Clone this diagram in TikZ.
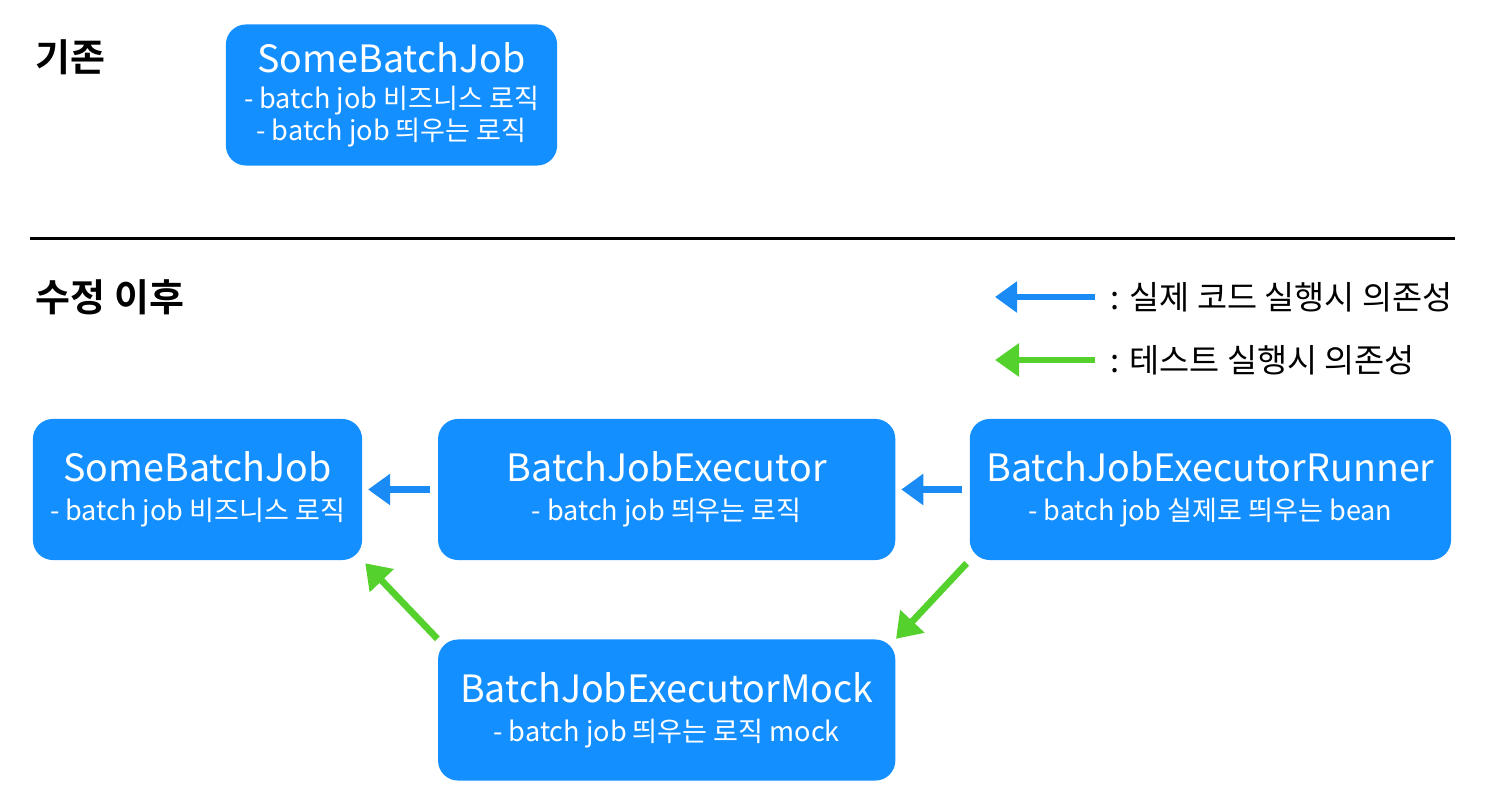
\documentclass[tikz,border=0pt]{standalone}
\usepackage{fontspec}
\setmainfont{Noto Sans CJK KR}[BoldFont=Noto Sans CJK KR Bold]
\usetikzlibrary{positioning,arrows.meta}
\definecolor{boxblue}{HTML}{148FFF}
\definecolor{depblue}{HTML}{1A8BF5}
\definecolor{depgreen}{HTML}{55D12E}
\newcommand{\boxtitle}[1]{{\fontsize{10.7}{13}\selectfont #1}}
\begin{document}
\begin{tikzpicture}[x=0.01cm,y=-0.01cm,
    job/.style={fill=boxblue,rounded corners=0.2cm,text=white,align=center,
      minimum height=1.41cm,inner sep=0pt,font=\fontsize{7.7}{9.1}\selectfont},
    head/.style={font=\fontsize{10.8}{12}\selectfont\bfseries,anchor=west,inner sep=0pt},
    legend/.style={font=\fontsize{9.3}{11}\selectfont,anchor=west,inner sep=0pt},
    realdep/.style={draw=depblue,line width=1.8pt,-{Triangle[length=0.22cm,width=0.3cm]}},
    testdep/.style={draw=depgreen,line width=1.9pt,-{Triangle[length=0.24cm,width=0.32cm]}},
    node distance={0.745cm}]
    \useasboundingbox (0,0) rectangle (1488,810);
    % before
    \node[head](before) at (35,57) {기존};
    \node[job,minimum width=3.31cm](oldjob) at (391.5,95)
        {\boxtitle{SomeBatchJob}\\[1pt]- batch job 비즈니스 로직\\- batch job 띄우는 로직};
    \coordinate (sepl) at (30,239);
    \coordinate (sepr) at (1455,239);
    \draw[line width=0.85pt] (sepl) -- (sepr);
    % after
    \node[head](after) at (35,297) {수정 이후};
    \coordinate (real1) at (1095,297);
    \coordinate (real0) at (995,297);
    \draw[realdep] (real1) -- (real0);
    \node[legend](reallbl) at (1110,297) {: 실제 코드 실행시 의존성};
    \coordinate (test1) at (1095,360);
    \coordinate (test0) at (995,360);
    \draw[testdep] (test1) -- (test0);
    \node[legend](testlbl) at (1110,360) {: 테스트 실행시 의존성};
    \node[job,minimum width=3.29cm](job) at (197.5,489.5)
        {\boxtitle{SomeBatchJob}\\[2pt]- batch job 비즈니스 로직};
    \node[job,minimum width=4.57cm](executor)[right=of job]
        {\boxtitle{BatchJobExecutor}\\[2pt]- batch job 띄우는 로직};
    \node[job,minimum width=4.81cm](runner)[right=0.73cm of executor]
        {\boxtitle{BatchJobExecutorRunner}\\[2pt]- batch job 실제로 띄우는 bean};
    \node[job,minimum width=4.57cm](mock)[below=0.78cm of executor]
        {\boxtitle{BatchJobExecutorMock}\\[2pt]- batch job 띄우는 로직 mock};
    \draw[realdep,shorten <=2pt,shorten >=1.5pt] (executor) -- (job);
    \draw[realdep,shorten <=2pt,shorten >=1.5pt] (runner) -- (executor);
    \draw[testdep,shorten >=1pt] (mock.north west) -- (job.south east);
    \draw[testdep,shorten <=1pt] (runner.south west) -- (mock.north east);
\end{tikzpicture}
\end{document}
